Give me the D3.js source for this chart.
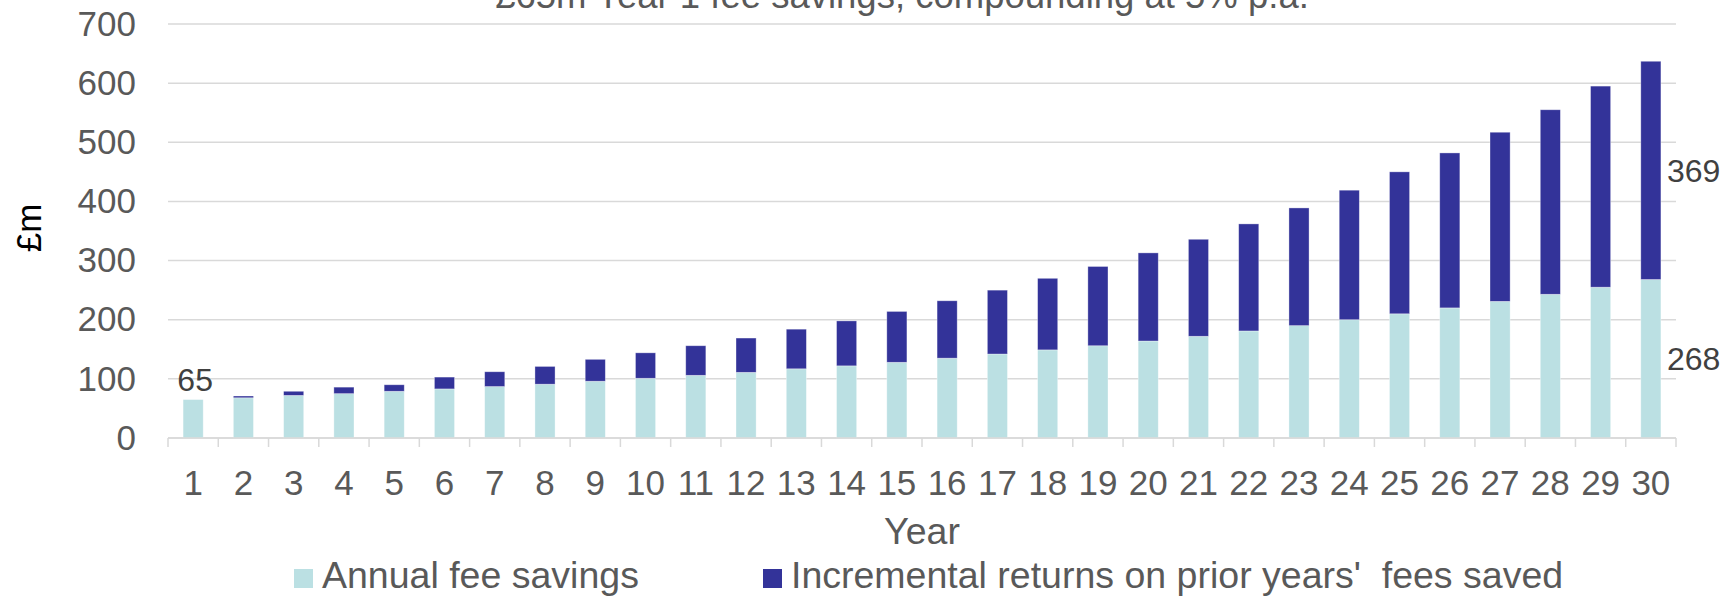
<!DOCTYPE html>
<html>
<head>
<meta charset="utf-8">
<script src="https://d3js.org/d3.v7.min.js"></script>
<style>
  body { margin: 0; background: #fff; }
  text { font-family: "Liberation Sans", Arial, sans-serif; }
</style>
</head>
<body>
<div id="graph"></div>
<script>
var years = d3.range(1, 31).map(String);
var annualFees = [65, 68, 72, 75, 79, 83, 87, 91, 96, 101, 106, 111, 117, 122, 128, 135, 142, 149, 156, 164, 172, 181, 190, 200, 210, 220, 231, 243, 255, 268];
var incremental = [0, 3, 7, 11, 11, 20, 25, 30, 37, 43, 50, 58, 67, 76, 86, 97, 108, 121, 134, 149, 164, 181, 199, 219, 240, 262, 286, 312, 340, 369];
var seriesNames = ["Annual fee savings", "Incremental returns on prior years'\u00a0 fees saved"];
var seriesColors = ["#bbe0e3", "#333399"];
var yTicks = [0, 100, 200, 300, 400, 500, 600, 700];
var title = "£65m Year 1 fee savings, compounding at 5% p.a.";

function init(){

    var width = 1735, height = 599;
    var margin = {top: 24, left: 168, right: 59, bottom: 161};
    var plotW = width - margin.left - margin.right;
    var plotH = height - margin.top - margin.bottom;

    var svg = d3.select('#graph')
      .append('svg')
        .attr("width", width)
        .attr("height", height);

    var g = svg.append("g")
        .attr("transform", "translate(" + margin.left + "," + margin.top + ")");

    var rows = years.map(function(y, i){
        return {year: y, fee: annualFees[i], inc: incremental[i]};
    });

    var stack = d3.stack().keys(["fee", "inc"])(rows);

    var x = d3.scaleBand()
        .domain(years)
        .range([0, plotW])
        .paddingInner(0.6)
        .paddingOuter(0.3);

    var y = d3.scaleLinear()
        .domain([0, 700])
        .range([plotH, 0]);

    // gridlines
    g.append("g")
        .selectAll("line")
        .data(yTicks)
        .join("line")
        .attr("x1", 0)
        .attr("x2", plotW)
        .attr("y1", function(d){ return y(d); })
        .attr("y2", function(d){ return y(d); })
        .attr("stroke", "#d9d9d9")
        .attr("stroke-width", 1.5);

    // Y axis labels
    var yAxis = g.append("g")
        .attr("transform", "translate(-32,0)")
        .call(d3.axisLeft(y).tickValues(yTicks).tickSize(0).tickPadding(0));
    yAxis.select(".domain").remove();
    yAxis.selectAll("text")
        .attr("font-size", 35)
        .attr("fill", "#595959")
        .attr("font-family", "Liberation Sans, Arial, sans-serif");

    // bars
    g.append("g")
        .selectAll("g")
        .data(stack)
        .join("g")
        .attr("fill", function(d, i){ return seriesColors[i]; })
        .selectAll("rect")
        .data(function(d){ return d; })
        .join("rect")
        .attr("x", function(d){ return x(d.data.year); })
        .attr("width", x.bandwidth())
        .attr("y", function(d){ return y(d[1]); })
        .attr("height", function(d){ return y(d[0]) - y(d[1]); })
        .attr("stroke", "rgba(255,255,255,0.45)")
        .attr("stroke-width", 0.75);

    // X axis
    var step = x.step();
    var xAxis = g.append("g")
        .attr("transform", "translate(0," + plotH + ")");
    xAxis.append("line")
        .attr("x1", 0).attr("x2", plotW)
        .attr("stroke", "#d9d9d9")
        .attr("stroke-width", 1.5);
    xAxis.selectAll(".tk")
        .data(d3.range(0, years.length + 1))
        .join("line")
        .attr("class", "tk")
        .attr("x1", function(d){ return d * step; })
        .attr("x2", function(d){ return d * step; })
        .attr("y1", 0)
        .attr("y2", 9)
        .attr("stroke", "#d9d9d9")
        .attr("stroke-width", 1.5);
    xAxis.selectAll(".lbl")
        .data(years)
        .join("text")
        .attr("class", "lbl")
        .attr("x", function(d){ return x(d) + x.bandwidth() / 2; })
        .attr("y", 57)
        .attr("text-anchor", "middle")
        .attr("font-size", 35)
        .attr("fill", "#595959")
        .text(function(d){ return d; });

    // data labels
    var first = rows[0], last = rows[rows.length - 1];
    g.append("text")
        .attr("x", x(first.year) + x.bandwidth() / 2 + 2)
        .attr("y", y(first.fee) - 9)
        .attr("text-anchor", "middle")
        .attr("font-size", 32)
        .attr("fill", "#404040")
        .text(first.fee);
    g.append("text")
        .attr("x", x(last.year) + x.bandwidth() + 6)
        .attr("y", y(last.fee / 2))
        .attr("dy", "0.35em")
        .attr("font-size", 32)
        .attr("fill", "#404040")
        .text(last.fee);
    g.append("text")
        .attr("x", x(last.year) + x.bandwidth() + 6)
        .attr("y", y(last.fee + last.inc / 2))
        .attr("dy", "0.35em")
        .attr("font-size", 32)
        .attr("fill", "#404040")
        .text(last.inc);

    // Y axis name
    svg.append("text")
        .attr("transform", "translate(41,228) rotate(-90)")
        .attr("text-anchor", "middle")
        .attr("font-size", 35)
        .attr("fill", "#000")
        .text("£m");

    // X axis name
    svg.append("text")
        .attr("x", margin.left + plotW / 2)
        .attr("y", 544)
        .attr("text-anchor", "middle")
        .attr("font-size", 37.5)
        .attr("fill", "#595959")
        .text("Year");

    // title (cut off at top, as in the original)
    svg.append("text")
        .attr("x", 902)
        .attr("y", 8)
        .attr("text-anchor", "middle")
        .attr("font-size", 36.5)
        .attr("fill", "#595959")
        .text(title);

    // legend
    var legendX = [294, 763];
    var legend = svg.append("g")
        .selectAll("g")
        .data(seriesNames)
        .join("g")
        .attr("transform", function(d, i){ return "translate(" + legendX[i] + ",569)"; });
    legend.append("rect")
        .attr("width", 19)
        .attr("height", 19)
        .attr("fill", function(d, i){ return seriesColors[i]; });
    legend.append("text")
        .attr("x", 28)
        .attr("y", 19)
        .attr("font-size", 37.5)
        .attr("fill", "#595959")
        .text(function(d){ return d; });
}

init();
</script>
</body>
</html>
